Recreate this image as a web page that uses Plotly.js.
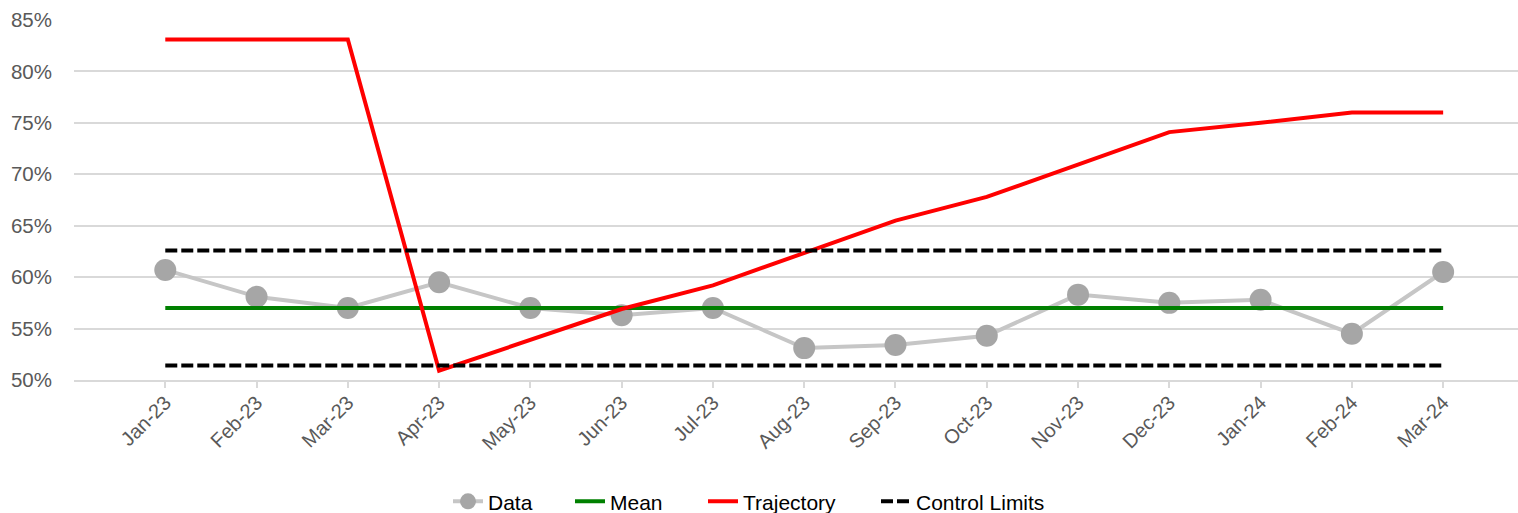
<!DOCTYPE html>
<html>
<head>
<meta charset="utf-8">
<script src="https://cdn.plot.ly/plotly-3.0.1.min.js"></script>
<style>html,body{margin:0;padding:0;background:#fff;}#chart{width:1518px;height:513px;}</style>
</head>
<body>
<div id="chart"></div>
<script>
const months = ["Jan-23","Feb-23","Mar-23","Apr-23","May-23","Jun-23","Jul-23","Aug-23","Sep-23","Oct-23","Nov-23","Dec-23","Jan-24","Feb-24","Mar-24"];
const dataValues = [60.7,58.1,57.0,59.5,57.0,56.3,57.0,53.1,53.4,54.3,58.3,57.5,57.8,54.5,60.5];
const meanValues = [57.0,57.0,57.0,57.0,57.0,57.0,57.0,57.0,57.0,57.0,57.0,57.0,57.0,57.0,57.0];
const trajectoryValues = [83.1,83.1,83.1,50.9,53.9,56.9,59.2,62.3,65.5,67.8,70.9,74.1,75.0,76.0,76.0];
const upperLimit = [62.6,62.6,62.6,62.6,62.6,62.6,62.6,62.6,62.6,62.6,62.6,62.6,62.6,62.6,62.6];
const lowerLimit = [51.4,51.4,51.4,51.4,51.4,51.4,51.4,51.4,51.4,51.4,51.4,51.4,51.4,51.4,51.4];
const yTicks = [50,55,60,65,70,75,80,85];
const yTickLabels = ["50%","55%","60%","65%","70%","75%","80%","85%"];

const traces = [
  {x: months, y: dataValues, name: "Data", type: "scatter", mode: "lines+markers",
   line: {color: "#c6c6c6", width: 4}, marker: {color: "#a6a6a6", size: 22}, legend: "legend"},
  {x: months, y: meanValues, name: "Mean", type: "scatter", mode: "lines",
   line: {color: "#008000", width: 4}, legend: "legend2"},
  {x: months, y: trajectoryValues, name: "Trajectory", type: "scatter", mode: "lines",
   line: {color: "#ff0000", width: 4}, legend: "legend3"},
  {x: months, y: upperLimit, name: "Control Limits", type: "scatter", mode: "lines",
   line: {color: "#000000", width: 4, dash: "12px,4px"}, legendgroup: "cl", legend: "legend4"},
  {x: months, y: lowerLimit, name: "Control Limits", type: "scatter", mode: "lines",
   line: {color: "#000000", width: 4, dash: "12px,4px"}, legendgroup: "cl", showlegend: false, legend: "legend4"}
];

function leg(px) {
  return {orientation: "h", xref: "container", x: px / 1518, xanchor: "left",
          yref: "container", y: 0.022, yanchor: "middle",
          font: {size: 21, color: "#000000"}, bgcolor: "rgba(0,0,0,0)"};
}

const layout = {
  width: 1518, height: 513,
  margin: {l: 74, r: 0, t: 20, b: 133, autoexpand: false},
  paper_bgcolor: "#ffffff", plot_bgcolor: "#ffffff",
  font: {family: "Liberation Sans, Arial, sans-serif", color: "#595959", size: 18},
  showlegend: true,
  legend: leg(448), legend2: leg(570), legend3: leg(703), legend4: leg(876),
  xaxis: {type: "category", categoryorder: "array", categoryarray: months,
          range: [-1, 14.82], tickangle: -45, tickfont: {size: 20, color: "#595959"},
          showgrid: false, showline: true, linecolor: "#d9d9d9", linewidth: 2,
          ticks: "outside", ticklen: 6, tickcolor: "#d9d9d9", tickwidth: 2, zeroline: false,
          ticklabelstandoff: -5},
  yaxis: {range: [50, 85], tickmode: "array", tickvals: yTicks, ticktext: yTickLabels,
          tickfont: {size: 20.5, color: "#595959"},
          showgrid: true, gridcolor: "#d9d9d9", gridwidth: 2, zeroline: false, showline: false,
          ticks: "", ticklabelstandoff: 21}
};

Plotly.newPlot("chart", traces, layout, {displayModeBar: false, staticPlot: true});
</script>
</body>
</html>
